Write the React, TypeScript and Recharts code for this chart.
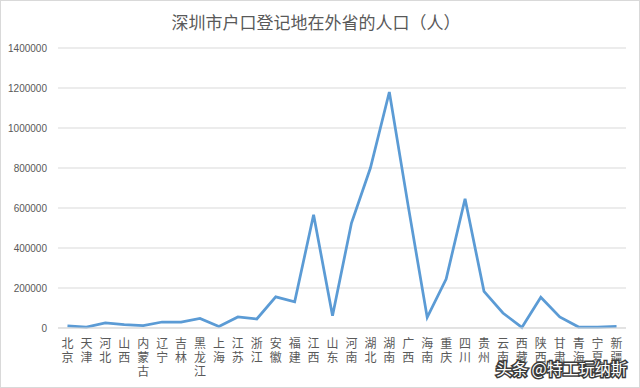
import React from 'react';
import { LineChart, Line, XAxis, YAxis, CartesianGrid } from 'recharts';

const provinces = ['北京','天津','河北','山西','内蒙古','辽宁','吉林','黑龙江','上海','江苏','浙江','安徽','福建','江西','山东','河南','湖北','湖南','广西','海南','重庆','四川','贵州','云南','西藏','陕西','甘肃','青海','宁夏','新疆'];
const population = [11000, 5000, 25000, 17000, 12000, 30000, 30000, 48000, 7000, 55000, 45000, 156000, 131000, 566000, 61000, 525000, 800000, 1180000, 608000, 53000, 245000, 646000, 183000, 75000, 3000, 154000, 55000, 5000, 5000, 8000];
const yTicks = [0, 200000, 400000, 600000, 800000, 1000000, 1200000, 1400000];
const title = '深圳市户口登记地在外省的人口（人）';
const watermark = '头条 @特工玩纳斯';

const data = provinces.map((name, i) => ({ name, value: population[i] }));

const CJK = '"Noto Sans CJK SC", "Microsoft YaHei", sans-serif';

const XTick = (props: any) => {
  const { x, y, payload } = props;
  const chars = String(payload.value).split('');
  return (
    <text x={x} y={y} textAnchor="middle" fill="#595959" fontSize={12} fontFamily={CJK}>
      {chars.map((c, i) => (
        <tspan key={i} x={x} dy={i === 0 ? 19.5 : 14}>{c}</tspan>
      ))}
    </text>
  );
};

export default function App() {
  return (
    <div style={{ position: 'absolute', left: 0, top: 0, width: 640, height: 388, background: '#fff', overflow: 'hidden' }}>
      <div style={{ position: 'absolute', left: 0, top: 12, width: 632, textAlign: 'center', fontSize: 17, lineHeight: '20px', color: '#595959', fontFamily: CJK }}>
        {title}
      </div>
      <LineChart width={640} height={388} data={data} margin={{ top: 48, right: 14, bottom: 0, left: 0 }}>
        <CartesianGrid vertical={false} stroke="#d9d9d9" strokeWidth={1} />
        <XAxis
          dataKey="name"
          scale="band"
          height={60}
          interval={0}
          tickLine={false}
          tickSize={0}
          tickMargin={0}
          axisLine={{ stroke: '#d9d9d9' }}
          tick={<XTick />}
        />
        <YAxis
          width={58}
          domain={[0, 1400000]}
          ticks={yTicks}
          interval={0}
          axisLine={false}
          tickLine={false}
          tickSize={0}
          tickMargin={11}
          tick={{ fill: '#595959', fontSize: 10, fontFamily: '"Liberation Sans", Arial, sans-serif' }}
        />
        <Line type="linear" dataKey="value" stroke="#5B9BD5" strokeWidth={2.75} dot={false} isAnimationActive={false} />
      </LineChart>
      <div style={{ position: 'absolute', left: 496, top: 358, fontSize: 16, lineHeight: '20px', color: '#fff', fontFamily: CJK, WebkitTextStroke: '3px #3a3a3a', paintOrder: 'stroke fill', whiteSpace: 'pre' } as any}>
        {watermark}
      </div>
      <div style={{ position: 'absolute', left: 0, top: 0, width: 638, height: 386, border: '1px solid #d9d9d9', pointerEvents: 'none' }} />
    </div>
  );
}
